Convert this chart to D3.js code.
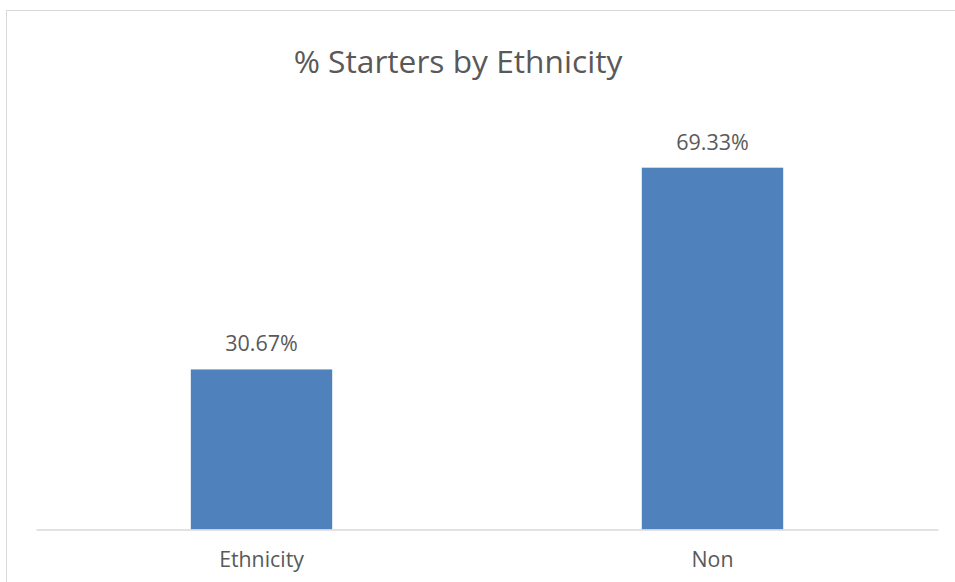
<!DOCTYPE html>
<html>
<head>
<meta charset="utf-8">
<script src="https://cdn.jsdelivr.net/npm/d3@7"></script>
<style>
  body { margin: 0; background: #fff; }
  text { font-family: "Open Sans", sans-serif; fill: #595959; }
</style>
</head>
<body>
<div id="chart"></div>
<script>
var categories = ["Ethnicity", "Non"];
var values = [30.67, 69.33];
var title = "% Starters by Ethnicity";

var width = 955;
var height = 582;

var svg = d3.select("#chart")
    .append("svg")
    .attr("width", width)
    .attr("height", height);

// chart area border (only left and top are inside the picture)
svg.append("rect")
    .attr("x", 6.5)
    .attr("y", 10.5)
    .attr("width", 1000)
    .attr("height", 1000)
    .attr("fill", "none")
    .attr("stroke", "#d9d9d9");

var xScale = d3.scaleBand()
    .domain(categories)
    .range([36, 938])
    .paddingInner(0.6865)
    .paddingOuter(0.6865 / 2);

var yScale = d3.scaleLinear()
    .domain([0, 80])
    .range([529.5, 112]);

svg.append("text")
    .attr("x", 458)
    .attr("y", 73)
    .attr("text-anchor", "middle")
    .style("font-size", "31.7px")
    .text(title);

svg.selectAll("rect.bar")
    .data(values)
    .enter()
    .append("rect")
    .attr("class", "bar")
    .attr("x", function(d, i) { return xScale(categories[i]); })
    .attr("y", function(d) { return yScale(d); })
    .attr("width", xScale.bandwidth())
    .attr("height", function(d) { return yScale(0) - yScale(d); })
    .attr("fill", "#4f81bd");

svg.selectAll("text.value")
    .data(values)
    .enter()
    .append("text")
    .attr("class", "value")
    .attr("x", function(d, i) { return xScale(categories[i]) + xScale.bandwidth() / 2; })
    .attr("y", function(d) { return yScale(d) - 18; })
    .attr("text-anchor", "middle")
    .style("font-size", "21.5px")
    .text(function(d) { return d.toFixed(2) + "%"; });

// x axis
var bottomAxis = d3.axisBottom(xScale).tickSize(0).tickPadding(22);
var gx = svg.append("g")
    .attr("transform", "translate(0," + yScale(0) + ")")
    .call(bottomAxis);
gx.select(".domain").attr("stroke", "#d9d9d9").attr("stroke-width", 1.5);
gx.selectAll("text")
    .style("font-size", "21.3px")
    .style("font-family", "'Open Sans', sans-serif")
    .attr("fill", "#595959");
</script>
</body>
</html>
